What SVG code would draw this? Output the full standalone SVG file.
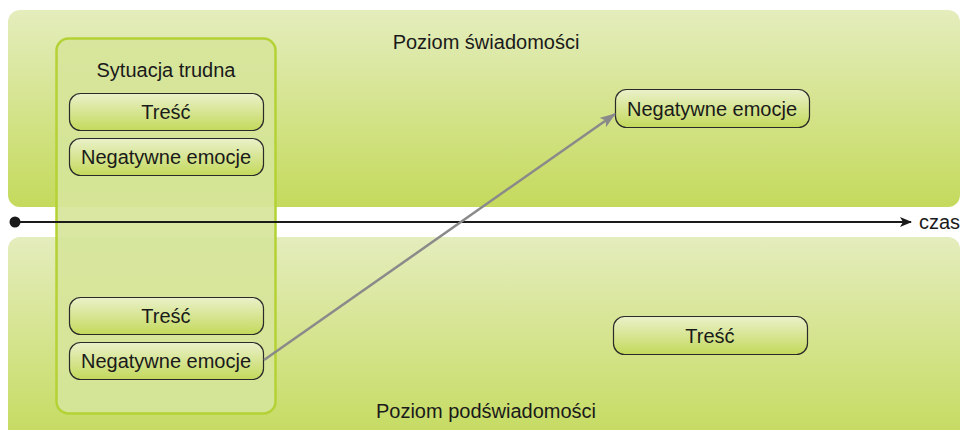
<svg xmlns="http://www.w3.org/2000/svg" width="961" height="430" viewBox="0 0 961 430">
<defs>
<linearGradient id="band" x1="0" y1="0" x2="0" y2="1">
<stop offset="0" stop-color="#e4edbd"/>
<stop offset="1" stop-color="#c4da5c"/>
</linearGradient>
<linearGradient id="node" x1="0" y1="0" x2="0" y2="1">
<stop offset="0" stop-color="#eaf1ca"/>
<stop offset="1" stop-color="#c3d95b"/>
</linearGradient>
<marker id="ah" viewBox="0 0 12 10" refX="11" refY="5" markerWidth="12" markerHeight="10" markerUnits="userSpaceOnUse" orient="auto">
<path d="M0,0 L12,5 L0,10 L3,5 Z" fill="#1a1a1a"/>
</marker>
<marker id="gh" viewBox="0 0 14 10" refX="13" refY="5" markerWidth="16" markerHeight="12" markerUnits="userSpaceOnUse" orient="auto">
<path d="M0,0 L14,5 L0,10 L3,5 Z" fill="#8a8a8a"/>
</marker>
</defs>
<style>
text{font-family:"Liberation Sans",Arial,sans-serif;fill:#1a1a1a;text-anchor:middle}
.lbl{font-size:20px}
.nd{fill:url(#node);stroke:#2a2a2a;stroke-width:1.2}
</style>
<g id="band-top">
<rect x="8" y="10" width="952" height="197" rx="12" fill="url(#band)"/>
<text class="lbl" x="486" y="49">Poziom świadomości</text>
</g>
<g id="band-bottom">
<rect x="8" y="237" width="952" height="210" rx="12" fill="url(#band)"/>
<text class="lbl" x="486" y="418">Poziom podświadomości</text>
</g>
<g id="sytuacja">
<rect x="56.5" y="38.5" width="219" height="375" rx="12" fill="#d6e59a" fill-opacity="0.92" stroke="#b4d235" stroke-width="2.5"/>
<text class="lbl" x="166" y="77">Sytuacja trudna</text>
</g>
<g id="tresc1">
<rect class="nd" x="69.5" y="93.5" width="194" height="37" rx="11"/>
<text class="lbl" x="166" y="119">Treść</text>
</g>
<g id="neg1">
<rect class="nd" x="69.5" y="138.5" width="194" height="37" rx="11"/>
<text class="lbl" x="166" y="164">Negatywne emocje</text>
</g>
<g id="tresc2">
<rect class="nd" x="69.5" y="297.5" width="194" height="37" rx="11"/>
<text class="lbl" x="166" y="323">Treść</text>
</g>
<g id="neg2">
<rect class="nd" x="69.5" y="342.5" width="194" height="37" rx="11"/>
<text class="lbl" x="166" y="368">Negatywne emocje</text>
</g>
<g id="neg3">
<rect class="nd" x="615.5" y="89.5" width="194" height="38" rx="11"/>
<text class="lbl" x="712" y="116">Negatywne emocje</text>
</g>
<g id="tresc3">
<rect class="nd" x="613.5" y="316.5" width="194" height="38" rx="11"/>
<text class="lbl" x="710" y="343">Treść</text>
</g>
<g id="timeline">
<circle cx="15" cy="222" r="5.5" fill="#1a1a1a"/>
<line x1="15" y1="222" x2="911" y2="222" stroke="#1a1a1a" stroke-width="2" marker-end="url(#ah)"/>
<text x="960" y="229" style="font-size:20px;text-anchor:end">czas</text>
</g>
<g id="connectors">
<line x1="264" y1="360" x2="615" y2="114" stroke="#8a8a8a" stroke-width="2.5" marker-end="url(#gh)"/>
</g>
</svg>
